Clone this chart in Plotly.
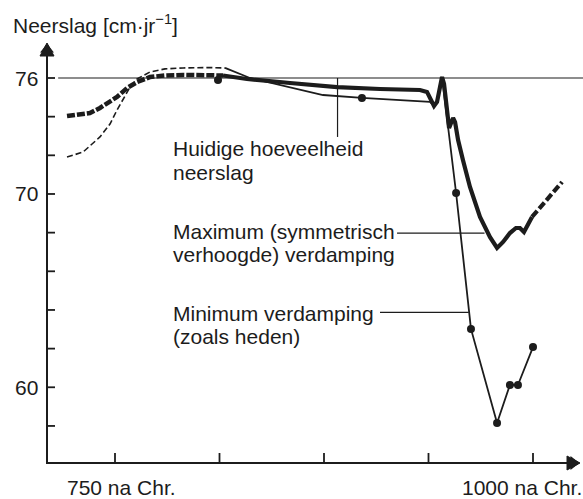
import plotly.graph_objects as go

# ---------------- data ----------------
x_ticks = [750, 812.5, 875, 937.5, 1000]
x_tick_labels = ["750 na Chr.", "1000 na Chr."]
y_ticks = [58, 60, 62, 64, 66, 68, 70, 72, 74, 76]
y_label_vals = [60, 70, 76]
y_label_text = ["60", "70", "76"]

current_level = 76  # huidige hoeveelheid neerslag

# Maximum (symmetrisch verhoogde) verdamping - thick curve
max_dash_year = [721.3, 729.1, 735.0, 741.0, 747.0, 751.2, 757.2, 763.2, 770.9, 779.9, 790.7, 806.8, 814.6]
max_dash_val = [74.03, 74.09, 74.19, 74.45, 74.76, 75.02, 75.48, 75.79, 76.05, 76.13, 76.16, 76.16, 76.13]
max_year = [814.6, 828.9, 854.7, 882.8, 908.5, 932.4, 936.6, 939.0, 940.8, 942.6, 944.4, 945.6,
            946.8, 948.6, 949.8, 951.0, 952.2, 953.4, 955.2, 958.1, 962.3, 968.3, 974.3, 978.5,
            982.1, 986.2, 989.8, 992.2, 994.6, 999.4]
max_val = [76.13, 75.95, 75.74, 75.53, 75.43, 75.38, 75.28, 74.91, 74.55, 74.76, 75.69, 76.05,
           75.69, 74.24, 73.41, 73.67, 73.93, 73.72, 72.79, 71.76, 70.36, 68.81, 67.77, 67.21,
           67.52, 67.98, 68.24, 68.24, 68.03, 68.81]
max_end_year = [999.4, 1008.4, 1017.4]
max_end_val = [68.81, 69.69, 70.62]

# Minimum verdamping (zoals heden) - thin curve
min_dash_year = [721.3, 730.9, 741.0, 747.0, 751.2, 755.4, 759.0, 763.2, 770.9, 779.9, 790.7, 806.8, 815.8]
min_dash_val = [71.91, 72.17, 72.95, 73.62, 74.34, 75.02, 75.53, 75.95, 76.31, 76.47, 76.52, 76.54, 76.52]
min_year = [815.8, 830.7, 874.4, 897.7, 938.4, 940.8, 942.6, 944.4, 945.6, 954.0, 962.9, 978.5, 986.2, 991.0, 1000.0]
min_val = [76.52, 76.0, 75.12, 74.97, 74.76, 74.55, 74.76, 75.69, 76.05, 70.05, 63.02, 58.15, 60.12, 60.12, 62.08]

# measured points
dot_year = [811.6, 897.7, 954.0, 962.9, 978.5, 986.2, 991.0, 1000.0]
dot_val = [75.90, 74.97, 70.05, 63.02, 58.15, 60.12, 60.12, 62.08]

# labels with leader lines
label_current = ["Huidige hoeveelheid", "neerslag"]
label_max = ["Maximum (symmetrisch", "verhoogde) verdamping"]
label_min = ["Minimum verdamping", "(zoals heden)"]

# ---------------- figure geometry ----------------
INK = "#1c1c1c"
FONT = "Liberation Sans, Arial, Helvetica, sans-serif"
FS = 21
W, H = 583, 499
PX_PER_YEAR = 1.672            # 750 -> px 115
PX_PER_UNIT = 19.33            # 76  -> px 78
X_RANGE = [750 - 115 / PX_PER_YEAR, 750 + (W - 115) / PX_PER_YEAR]
Y_RANGE = [76 - (H - 78) / PX_PER_UNIT, 76 + 78 / PX_PER_UNIT]
AX_X0 = 750 - (115 - 47) / PX_PER_YEAR        # y-axis position
AX_X1 = 750 + (580 - 115) / PX_PER_YEAR       # x-axis arrow tip
AX_Y0 = 76 - (463 - 78) / PX_PER_UNIT         # x-axis position
AX_Y1 = 76 + (78 - 43) / PX_PER_UNIT          # y-axis arrow tip
HEAD_LEN, HEAD_HALF = 13, 7                   # arrow head size, px
YTICK_LEN, XTICK_LEN = 8, 10                  # px


def px_x(px):
    return px / W


def px_y(py):
    return 1 - py / H


fig = go.Figure()

# axes
head_dy = HEAD_LEN / PX_PER_UNIT
head_dx = HEAD_LEN / PX_PER_YEAR
fig.add_trace(go.Scatter(x=[AX_X0, AX_X0, AX_X1 - head_dx], y=[AX_Y1 - head_dy, AX_Y0, AX_Y0],
                         mode="lines", line=dict(color=INK, width=2), hoverinfo="skip"))
fig.add_trace(go.Scatter(
    x=[AX_X0 - HEAD_HALF / PX_PER_YEAR, AX_X0, AX_X0 + HEAD_HALF / PX_PER_YEAR, AX_X0 - HEAD_HALF / PX_PER_YEAR],
    y=[AX_Y1 - head_dy, AX_Y1, AX_Y1 - head_dy, AX_Y1 - head_dy],
    mode="lines", fill="toself", fillcolor=INK, line=dict(color=INK, width=1), hoverinfo="skip"))
fig.add_trace(go.Scatter(
    x=[AX_X1 - head_dx, AX_X1, AX_X1 - head_dx, AX_X1 - head_dx],
    y=[AX_Y0 - HEAD_HALF / PX_PER_UNIT, AX_Y0, AX_Y0 + HEAD_HALF / PX_PER_UNIT, AX_Y0 - HEAD_HALF / PX_PER_UNIT],
    mode="lines", fill="toself", fillcolor=INK, line=dict(color=INK, width=1), hoverinfo="skip"))
# triangle markers on the same spots (the plot area spans the whole figure here)
fig.add_trace(go.Scatter(
    x=[AX_X0, AX_X1 - 6.5 / PX_PER_YEAR],
    y=[AX_Y1 - 6.5 / PX_PER_UNIT, AX_Y0],
    mode="markers", hoverinfo="skip",
    marker=dict(symbol=["triangle-up", "triangle-right"], size=12, color=INK)))

# tick marks
ytx, yty = [], []
for v in y_ticks:
    ytx += [AX_X0, AX_X0 + YTICK_LEN / PX_PER_YEAR, None]
    yty += [v, v, None]
xtx, xty = [], []
for v in x_ticks:
    xtx += [v, v, None]
    xty += [AX_Y0, AX_Y0 + XTICK_LEN / PX_PER_UNIT, None]
fig.add_trace(go.Scatter(x=ytx + xtx, y=yty + xty, mode="lines",
                         line=dict(color=INK, width=1.8), hoverinfo="skip"))

# current precipitation level
fig.add_shape(type="line", xref="x", yref="y", x0=716, x1=X_RANGE[1], y0=current_level, y1=current_level,
              line=dict(color=INK, width=1.2), layer="below")

# leader lines
fig.add_shape(type="line", xref="x", yref="y", x0=883.1, x1=883.1, y0=current_level, y1=72.95,
              line=dict(color=INK, width=1.2))
fig.add_shape(type="line", xref="x", yref="y", x0=918.7, x1=971.0, y0=67.97, y1=67.97,
              line=dict(color=INK, width=1.2))
fig.add_shape(type="line", xref="x", yref="y", x0=908.5, x1=961.6, y0=63.88, y1=63.88,
              line=dict(color=INK, width=1.2))

# curves
fig.add_trace(go.Scatter(x=min_dash_year, y=min_dash_val, mode="lines",
                         line=dict(color=INK, width=1.6, dash="6px,3px"), hoverinfo="skip"))
fig.add_trace(go.Scatter(x=min_year, y=min_val, mode="lines",
                         line=dict(color=INK, width=1.8), hoverinfo="skip"))
fig.add_trace(go.Scatter(x=max_dash_year, y=max_dash_val, mode="lines",
                         line=dict(color=INK, width=4.5, dash="8px,2px"), hoverinfo="skip"))
fig.add_trace(go.Scatter(x=max_year, y=max_val, mode="lines",
                         line=dict(color=INK, width=4.2), hoverinfo="skip"))
fig.add_trace(go.Scatter(x=max_end_year, y=max_end_val, mode="lines",
                         line=dict(color=INK, width=4.2, dash="8px,3px"), hoverinfo="skip"))
fig.add_trace(go.Scatter(x=dot_year, y=dot_val, mode="markers",
                         marker=dict(color=INK, size=8), hoverinfo="skip"))

annots = []


def text(t, px, py, xanchor="left"):
    annots.append(dict(text=t, xref="paper", yref="paper", x=px_x(px), y=px_y(py),
                       xanchor=xanchor, yanchor="middle", showarrow=False,
                       borderpad=0, borderwidth=0,
                       font=dict(family=FONT, size=FS, color=INK)))


text(label_current[0], 173, 149)
text(label_current[1], 173, 172)
text(label_max[0], 173, 231)
text(label_max[1], 173, 255)
text(label_min[0], 173, 313.5)
text(label_min[1], 173, 336.5)
text("Neerslag [cm·jr<sup>−1</sup>]", 13, 24)
text(x_tick_labels[0], 121, 487, xanchor="center")
text(x_tick_labels[1], 582, 487, xanchor="right")
for v, t in zip(y_label_vals, y_label_text):
    annots.append(dict(text=t, xref="paper", yref="y", x=px_x(38), y=v,
                       xanchor="right", yanchor="middle", showarrow=False,
                       borderpad=0, borderwidth=0,
                       font=dict(family=FONT, size=FS, color=INK)))

fig.update_layout(
    width=W, height=H,
    margin=dict(l=0, r=0, t=0, b=0, pad=0, autoexpand=False),
    paper_bgcolor="white", plot_bgcolor="white",
    showlegend=False,
    annotations=annots,
    font=dict(family=FONT, size=FS, color=INK),
    xaxis=dict(range=X_RANGE, visible=False, fixedrange=True),
    yaxis=dict(range=Y_RANGE, visible=False, fixedrange=True),
)

fig.write_html("out.html", config={"displayModeBar": False},
               post_script="document.body.style.margin='0';document.body.style.overflow='hidden';")
